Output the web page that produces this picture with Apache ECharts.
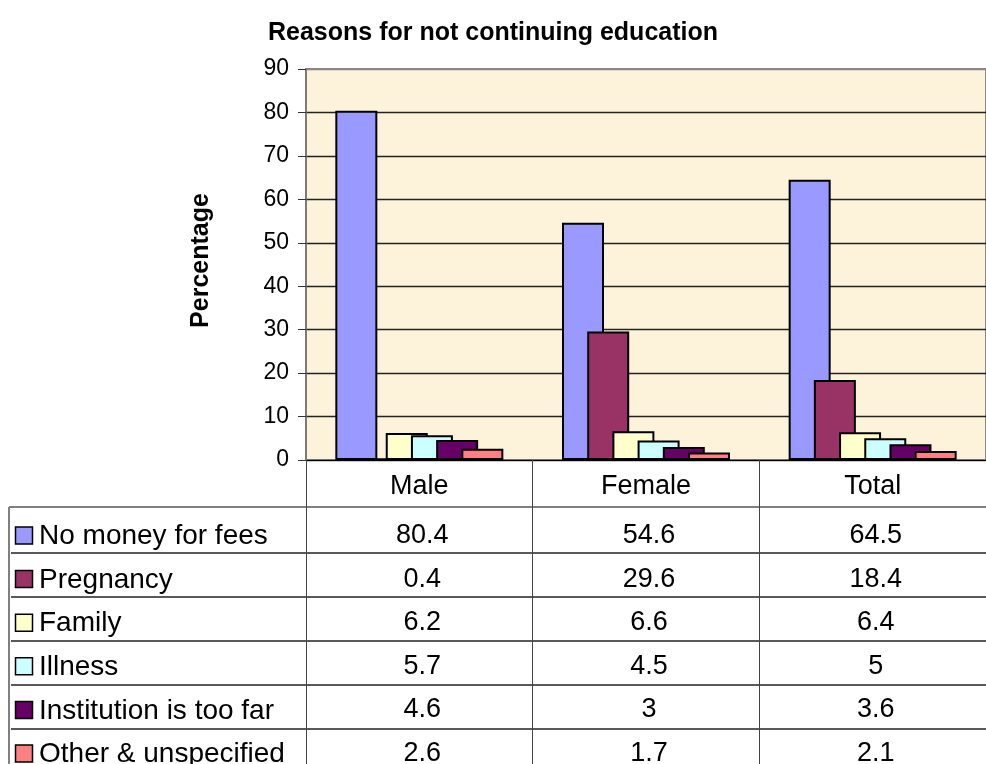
<!DOCTYPE html>
<html>
<head>
<meta charset="utf-8">
<script src="https://cdn.jsdelivr.net/npm/echarts@6/dist/echarts.min.js"></script>
<style>
  html, body { margin: 0; padding: 0; background: #fff; }
  #main { width: 986px; height: 764px; }
</style>
</head>
<body>
<div id="main"></div>
<script>
// data
var categories = ['Male', 'Female', 'Total'];
var reasons = ['No money for fees', 'Pregnancy', 'Family', 'Illness', 'Institution is too far', 'Other & unspecified'];
var noMoney = [80.4, 54.6, 64.5];
var pregnancy = [0.4, 29.6, 18.4];
var family = [6.2, 6.6, 6.4];
var illness = [5.7, 4.5, 5];
var institution = [4.6, 3, 3.6];
var other = [2.6, 1.7, 2.1];
var colors = ['#9999FF', '#993366', '#FFFFCC', '#CCFFFF', '#660066', '#FF8080'];

var values = [noMoney, pregnancy, family, illness, institution, other];
var font = 'Liberation Sans, Arial, sans-serif';

var myChart = echarts.init(document.getElementById('main'));

var series = values.map(function (d, i) {
  return {
    name: reasons[i],
    type: 'bar',
    data: d,
    barWidth: 42,
    barGap: '-40%',
    itemStyle: { color: colors[i], borderColor: '#000', borderWidth: 2 },
    emphasis: { disabled: true }
  };
});

// split line colours: 0..80 dark, top one grey
var splitColors = ['#222', '#222', '#222', '#222', '#222', '#222', '#222', '#222', '#222', '#888'];

var option = {
  animation: false,
  color: colors,
  title: {
    text: 'Reasons for not continuing education',
    left: 'center',
    top: 16,
    textStyle: { fontFamily: font, fontSize: 25, fontWeight: 'bold', color: '#000' }
  },
  grid: {
    left: 306,
    top: 69,
    bottom: 304,
    right: -17,
    show: true,
    backgroundColor: '#FDF3DB',
    borderColor: '#888',
    borderWidth: 2
  },
  xAxis: {
    type: 'category',
    data: categories,
    axisLine: { lineStyle: { color: '#000', width: 1 } },
    axisTick: { show: true, length: 310, lineStyle: { color: '#444', width: 1 } },
    axisLabel: { fontFamily: font, fontSize: 27, color: '#000', margin: 13 }
  },
  yAxis: {
    type: 'value',
    min: 0,
    max: 90,
    interval: 10,
    name: 'Percentage',
    nameLocation: 'middle',
    nameGap: 92,
    nameTextStyle: { fontFamily: font, fontSize: 25, fontWeight: 'bold', color: '#000', padding: [0, 0, 0, 8] },
    axisLine: { show: true, lineStyle: { color: '#777', width: 1.5 } },
    axisTick: { show: true, length: 8, lineStyle: { color: '#333' } },
    axisLabel: { fontFamily: font, fontSize: 23, color: '#000', margin: 17 },
    splitLine: { show: true, lineStyle: { color: splitColors, width: 1.3 } }
  },
  series: series
};

myChart.setOption(option);

// data table under the plot
var rowTop = 507, rowH = 44, W = 986, H = 764;
var g = [];
g.push({ type: 'line', shape: { x1: 9, y1: rowTop, x2: W, y2: rowTop }, style: { stroke: '#808080', lineWidth: 2 } });
g.push({ type: 'line', shape: { x1: 9, y1: rowTop, x2: 9, y2: H }, style: { stroke: '#808080', lineWidth: 2 } });
for (var r = 1; r < reasons.length; r++) {
  var ly = rowTop + 2 + rowH * r;
  g.push({ type: 'line', shape: { x1: 11, y1: ly, x2: W, y2: ly }, style: { stroke: '#222', lineWidth: 1.3 } });
}
reasons.forEach(function (name, r) {
  var cy = 535.5 + 43.6 * r;
  g.push({ type: 'rect', shape: { x: 15.5, y: cy - 8.5, width: 17, height: 17 },
    style: { fill: colors[r], stroke: '#000', lineWidth: 1.5 } });
  g.push({ type: 'text', style: { text: name, x: 39, y: cy + 1, fill: '#000',
    font: '28px ' + font, align: 'left', verticalAlign: 'middle' } });
  values[r].forEach(function (v, c) {
    var px = myChart.convertToPixel({ xAxisIndex: 0 }, c);
    g.push({ type: 'text', style: { text: String(v), x: px + 3, y: cy, fill: '#000',
      font: '27px ' + font, align: 'center', verticalAlign: 'middle' } });
  });
});
myChart.setOption({ graphic: g });
</script>
</body>
</html>
